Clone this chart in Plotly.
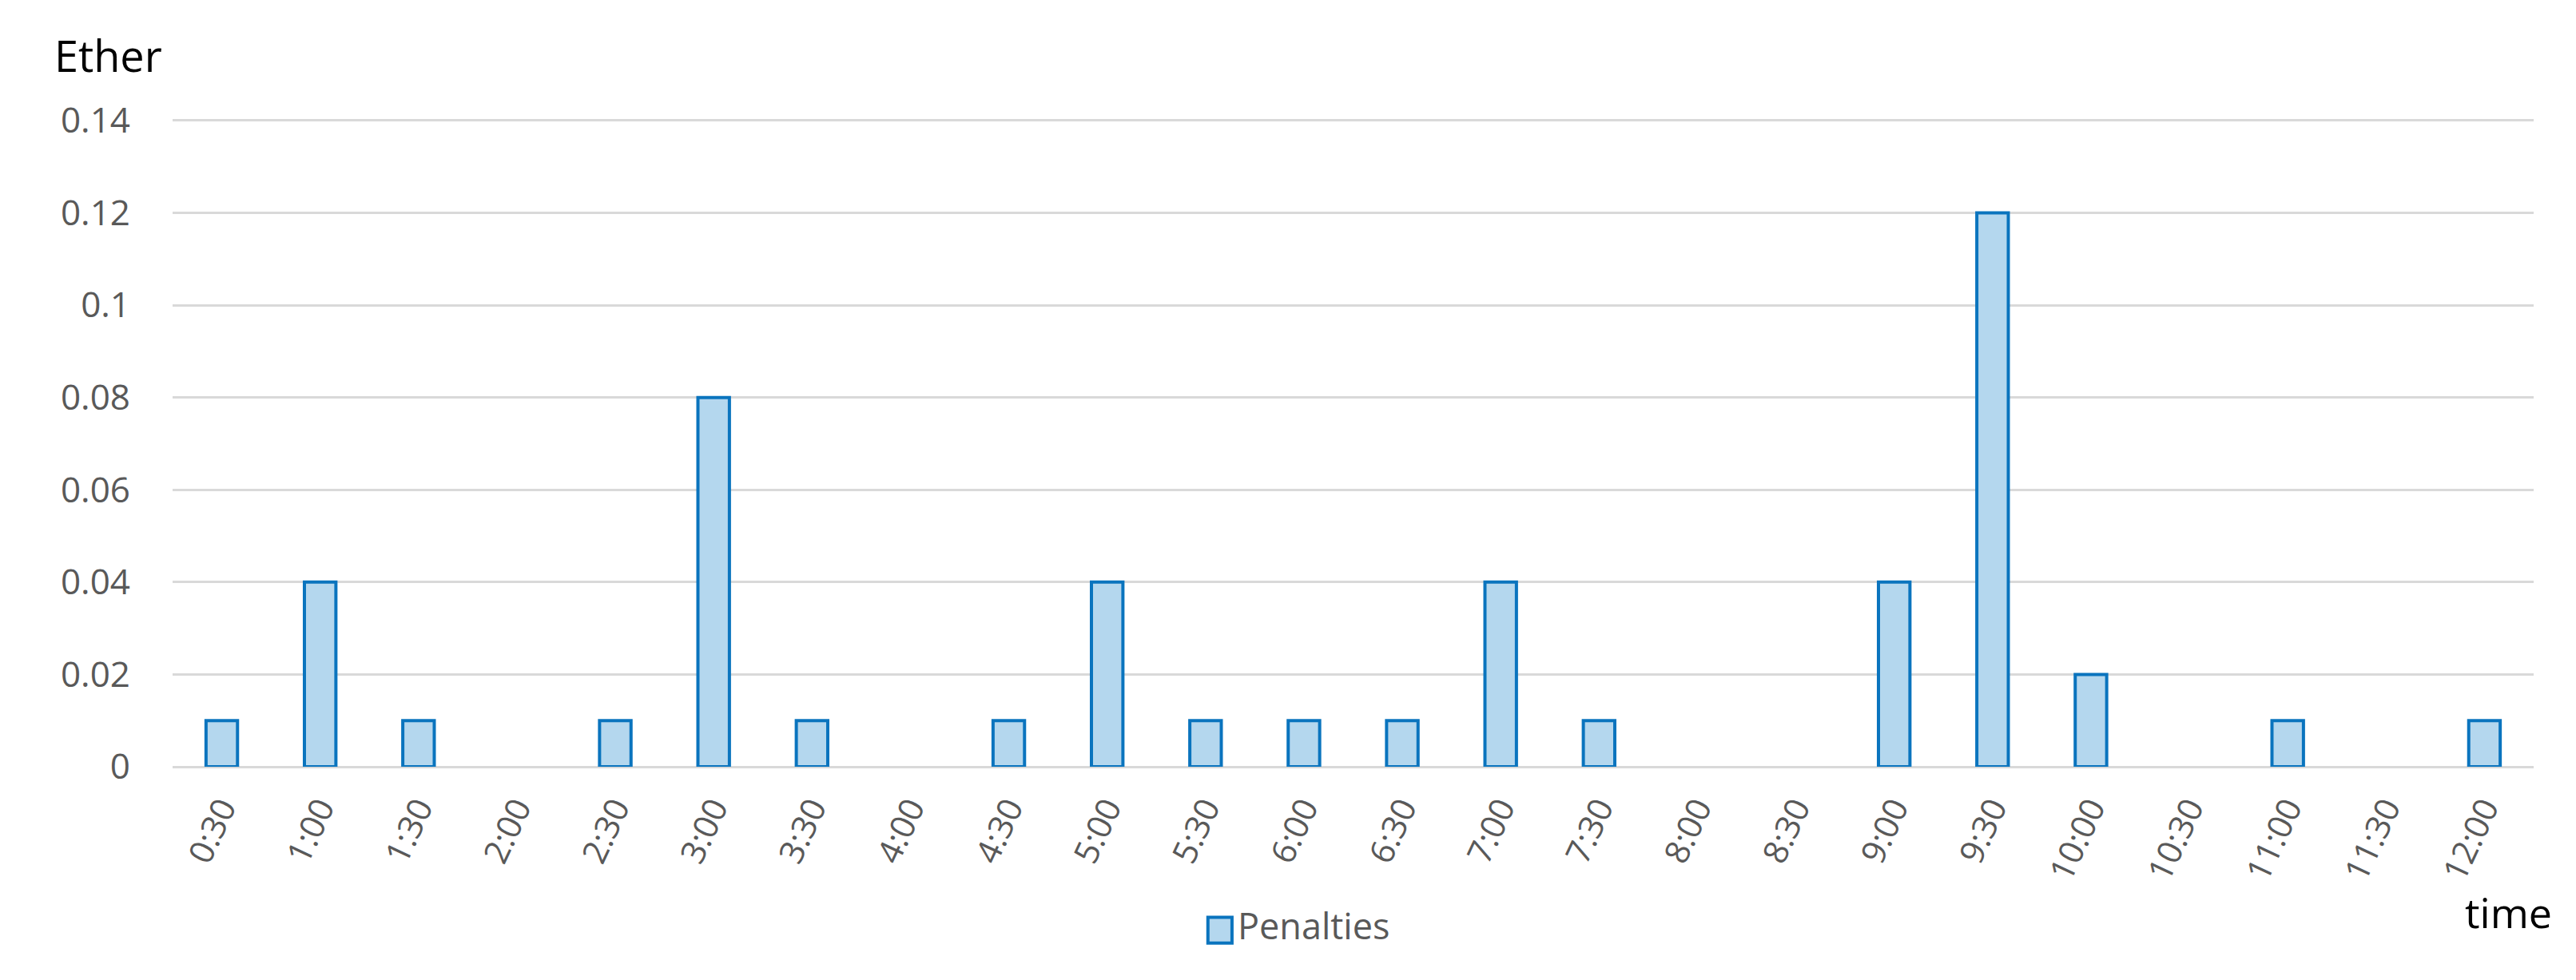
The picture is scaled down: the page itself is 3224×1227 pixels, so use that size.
import plotly.graph_objects as go

# half-hour slots and penalty amounts (Ether)
times = ["0:30", "1:00", "1:30", "2:00", "2:30", "3:00", "3:30", "4:00",
         "4:30", "5:00", "5:30", "6:00", "6:30", "7:00", "7:30", "8:00",
         "8:30", "9:00", "9:30", "10:00", "10:30", "11:00", "11:30", "12:00"]
penalties = [0.01, 0.04, 0.01, 0, 0.01, 0.08, 0.01, 0,
             0.01, 0.04, 0.01, 0.01, 0.01, 0.04, 0.01, 0,
             0, 0.04, 0.12, 0.02, 0, 0.01, 0, 0.01]
y_ticks = [0, 0.02, 0.04, 0.06, 0.08, 0.1, 0.12, 0.14]
y_labels = ["0", "0.02", "0.04", "0.06", "0.08", "0.1", "0.12", "0.14"]

FILL = "#B4D7EE"
EDGE = "#0A74BE"
FONT = "Open Sans, sans-serif"

fig = go.Figure()
# no outline on empty slots (Excel draws nothing there)
fig.add_trace(go.Bar(x=times, y=penalties, name="Penalties", showlegend=False,
                     marker=dict(color=FILL,
                                 line=dict(color=EDGE, width=[4 if v else 0 for v in penalties])),
                     width=0.32))

# legend drawn by hand so the swatch matches the big Excel square
fig.add_shape(type="rect", xref="paper", yref="paper",
              x0=0.4385, x1=0.4487, y0=-0.272, y1=-0.232,
              fillcolor=FILL, line=dict(color=EDGE, width=4))

fig.update_layout(
    width=3224, height=1227,
    margin=dict(l=208, r=61, t=140, b=275),
    plot_bgcolor="white", paper_bgcolor="white",
    xaxis=dict(type="category", tickangle=-65,
               tickfont=dict(family=FONT, size=42, color="#595959"),
               showgrid=False, showline=False, ticks="", ticklabelstandoff=18),
    yaxis=dict(range=[0, 0.1405], tickvals=y_ticks, ticktext=y_labels,
               tickfont=dict(family=FONT, size=44, color="#595959"),
               showgrid=True, gridcolor="#D9D9D9", gridwidth=3,
               zeroline=True, zerolinecolor="#D9D9D9", zerolinewidth=3,
               showline=False, ticks="", ticklabelstandoff=52),
    annotations=[
        dict(text="Ether", xref="paper", yref="paper", x=-0.0508, y=1.097,
             xanchor="left", yanchor="middle", showarrow=False,
             font=dict(family=FONT, size=54, color="black")),
        dict(text="time", xref="paper", yref="paper", x=1.0085, y=-0.223,
             xanchor="right", yanchor="middle", showarrow=False,
             font=dict(family=FONT, size=52, color="black")),
        dict(text="Penalties", xref="paper", yref="paper", x=0.4505, y=-0.245,
             xanchor="left", yanchor="middle", showarrow=False,
             font=dict(family=FONT, size=45, color="#595959")),
    ],
)

fig.write_html("out.html")
